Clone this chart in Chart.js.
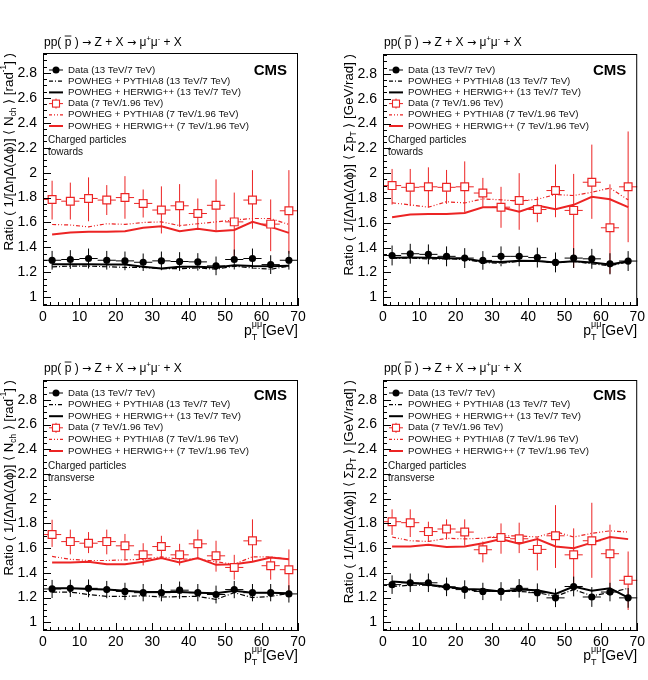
<!DOCTYPE html>
<html>
<head>
<meta charset="utf-8">
<script src="https://cdn.jsdelivr.net/npm/chart.js@4.4.1/dist/chart.umd.min.js"></script>
<style>
    body { margin: 0; background: #fff; }
    #wrap { position: relative; width: 648px; height: 680px; }
    canvas { position: absolute; }
</style>
</head>
<body>
<div id="wrap">
    <canvas id="cA" width="324" height="340" style="left:0;top:0"></canvas>
    <canvas id="cB" width="324" height="340" style="left:324px;top:0"></canvas>
    <canvas id="cC" width="324" height="340" style="left:0;top:340px"></canvas>
    <canvas id="cD" width="324" height="340" style="left:324px;top:340px"></canvas>
</div>
<script>
// bins of pT(mumu), GeV
const binCenters = [2.5, 7.5, 12.5, 17.5, 22.5, 27.5, 32.5, 37.5, 42.5, 47.5, 52.5, 57.5, 62.5, 67.5];
const binHalfWidth = 2.5;
const xTickValues = [0, 10, 20, 30, 40, 50, 60, 70];
const yTickValues = [1, 1.2, 1.4, 1.6, 1.8, 2, 2.2, 2.4, 2.6, 2.8];
const yTickLabels = ['1', '1.2', '1.4', '1.6', '1.8', '2', '2.2', '2.4', '2.6', '2.8'];
const legendLabels = [
    'Data (13 TeV/7 TeV)',
    'POWHEG + PYTHIA8 (13 TeV/7 TeV)',
    'POWHEG + HERWIG++ (13 TeV/7 TeV)',
    'Data (7 TeV/1.96 TeV)',
    'POWHEG + PYTHIA8 (7 TeV/1.96 TeV)',
    'POWHEG + HERWIG++ (7 TeV/1.96 TeV)'
];

// A: towards, <Nch>
const A_red   = [1.785, 1.771, 1.793, 1.78, 1.80, 1.753, 1.70, 1.734, 1.672, 1.738, 1.605, 1.78, 1.587, 1.694];
const A_redLo = [1.624, 1.624, 1.61, 1.66, 1.63, 1.64, 1.512, 1.565, 1.552, 1.533, 1.33, 1.55, 1.37, 1.35];
const A_redHi = [1.935, 1.92, 1.962, 1.90, 1.972, 1.865, 1.89, 1.908, 1.793, 1.946, 1.84, 2.02, 1.785, 2.02];
const A_redPy = [1.584, 1.58, 1.565, 1.59, 1.585, 1.60, 1.605, 1.575, 1.59, 1.605, 1.62, 1.632, 1.632, 1.584];
const A_redHw = [1.504, 1.52, 1.525, 1.525, 1.53, 1.557, 1.57, 1.53, 1.55, 1.53, 1.54, 1.605, 1.565, 1.517];
const A_blk    = [1.297, 1.303, 1.311, 1.297, 1.292, 1.281, 1.292, 1.287, 1.284, 1.252, 1.303, 1.311, 1.262, 1.297];
const A_blkErr = [0.075, 0.075, 0.08, 0.075, 0.075, 0.07, 0.075, 0.075, 0.07, 0.075, 0.08, 0.08, 0.075, 0.075];
const A_blkPy  = [1.244, 1.25, 1.25, 1.245, 1.24, 1.24, 1.23, 1.23, 1.235, 1.225, 1.25, 1.235, 1.225, 1.25];
const A_blkHw  = [1.265, 1.265, 1.265, 1.262, 1.262, 1.245, 1.23, 1.244, 1.244, 1.238, 1.257, 1.25, 1.248, 1.252];

// B: towards, <sum pT>
const B_red   = [1.90, 1.886, 1.89, 1.886, 1.89, 1.84, 1.726, 1.78, 1.707, 1.86, 1.70, 1.927, 1.56, 1.89];
const B_redLo = [1.747, 1.735, 1.726, 1.753, 1.686, 1.73, 1.56, 1.544, 1.605, 1.645, 1.24, 1.632, 1.19, 1.444];
const B_redHi = [2.034, 2.034, 2.047, 2.026, 2.095, 1.962, 1.89, 2.0, 1.81, 2.07, 1.994, 2.23, 1.91, 2.336];
const B_redPy = [1.761, 1.745, 1.726, 1.77, 1.76, 1.793, 1.785, 1.775, 1.79, 1.828, 1.82, 1.846, 1.88, 1.785];
const B_redHw = [1.645, 1.667, 1.672, 1.672, 1.68, 1.726, 1.726, 1.69, 1.74, 1.71, 1.745, 1.81, 1.79, 1.726];
const B_blk    = [1.337, 1.351, 1.346, 1.33, 1.316, 1.297, 1.33, 1.33, 1.32, 1.281, 1.316, 1.31, 1.27, 1.292];
const B_blkErr = [0.08, 0.08, 0.08, 0.08, 0.08, 0.075, 0.08, 0.08, 0.08, 0.08, 0.08, 0.08, 0.085, 0.08];
const B_blkPy  = [1.315, 1.315, 1.31, 1.31, 1.305, 1.28, 1.275, 1.29, 1.29, 1.285, 1.29, 1.27, 1.255, 1.285];
const B_blkHw  = [1.319, 1.32, 1.318, 1.315, 1.312, 1.289, 1.285, 1.295, 1.293, 1.28, 1.29, 1.28, 1.265, 1.29];

// C: transverse, <Nch>
const C_red   = [1.71, 1.653, 1.64, 1.653, 1.619, 1.546, 1.613, 1.546, 1.635, 1.538, 1.444, 1.659, 1.458, 1.426];
const C_redLo = [1.61, 1.55, 1.56, 1.55, 1.51, 1.46, 1.52, 1.46, 1.52, 1.41, 1.345, 1.49, 1.345, 1.25];
const C_redHi = [1.83, 1.75, 1.73, 1.75, 1.715, 1.64, 1.70, 1.635, 1.75, 1.66, 1.546, 1.833, 1.53, 1.59];
const C_redPy = [1.533, 1.51, 1.50, 1.50, 1.505, 1.51, 1.53, 1.51, 1.515, 1.49, 1.47, 1.53, 1.53, 1.51];
const C_redHw = [1.485, 1.485, 1.49, 1.47, 1.47, 1.49, 1.52, 1.485, 1.52, 1.465, 1.47, 1.49, 1.525, 1.51];
const C_blk    = [1.27, 1.275, 1.275, 1.265, 1.25, 1.24, 1.24, 1.26, 1.24, 1.225, 1.265, 1.24, 1.24, 1.23];
const C_blkErr = [0.073, 0.07, 0.072, 0.07, 0.07, 0.07, 0.07, 0.07, 0.07, 0.072, 0.07, 0.07, 0.07, 0.07];
const C_blkPy  = [1.245, 1.245, 1.225, 1.21, 1.21, 1.215, 1.205, 1.208, 1.21, 1.185, 1.24, 1.20, 1.21, 1.235];
const C_blkHw  = [1.275, 1.275, 1.27, 1.265, 1.255, 1.245, 1.245, 1.245, 1.24, 1.235, 1.255, 1.24, 1.24, 1.235];

// D: transverse, <sum pT>
const D_red   = [1.814, 1.806, 1.734, 1.755, 1.73, 1.587, 1.686, 1.676, 1.59, 1.70, 1.546, 1.66, 1.555, 1.34];
const D_redLo = [1.707, 1.69, 1.654, 1.67, 1.62, 1.485, 1.555, 1.56, 1.42, 1.44, 1.27, 1.36, 1.25, 1.10];
const D_redHi = [1.914, 1.914, 1.814, 1.833, 1.833, 1.654, 1.80, 1.806, 1.68, 1.948, 1.76, 1.967, 1.79, 1.573];
const D_redPy = [1.69, 1.66, 1.654, 1.68, 1.675, 1.68, 1.70, 1.70, 1.69, 1.734, 1.69, 1.72, 1.74, 1.73];
const D_redHw = [1.613, 1.613, 1.627, 1.61, 1.613, 1.64, 1.673, 1.635, 1.673, 1.613, 1.60, 1.645, 1.69, 1.673];
const D_blk    = [1.305, 1.32, 1.32, 1.287, 1.265, 1.25, 1.25, 1.275, 1.24, 1.198, 1.29, 1.205, 1.245, 1.198];
const D_blkErr = [0.075, 0.075, 0.075, 0.075, 0.075, 0.07, 0.075, 0.075, 0.075, 0.075, 0.08, 0.08, 0.075, 0.08];
const D_blkPy  = [1.29, 1.30, 1.30, 1.28, 1.265, 1.25, 1.25, 1.25, 1.24, 1.21, 1.265, 1.215, 1.24, 1.275];
const D_blkHw  = [1.33, 1.32, 1.305, 1.287, 1.27, 1.265, 1.25, 1.265, 1.26, 1.23, 1.29, 1.255, 1.275, 1.20];

const FONT = '"Liberation Sans", Arial, Helvetica, sans-serif';
const SYMFONT = '"DejaVu Sans", sans-serif';
const RED = 'rgb(236,36,36)';

const panels = {
    cA: { red: A_red, redLo: A_redLo, redHi: A_redHi, redPy: A_redPy, redHw: A_redHw,
          blk: A_blk, blkErr: A_blkErr, blkPy: A_blkPy, blkHw: A_blkHw,
          area: { left: 43, top: 53, right: 298, bottom: 306 }, yTitleLen: 198,
          quantity: 'nch', region: 'towards', hdrGap: 10, legTop: 17, legGap: 11.2, cmsY: 18, cpTop: 87 },
    cB: { red: B_red, redLo: B_redLo, redHi: B_redHi, redPy: B_redPy, redHw: B_redHw,
          blk: B_blk, blkErr: B_blkErr, blkPy: B_blkPy, blkHw: B_blkHw,
          area: { left: 59, top: 54, right: 314, bottom: 306 }, yTitleLen: 222,
          quantity: 'ptsum', region: 'towards', hdrGap: 11, legTop: 16, legGap: 11.2, cmsY: 17, cpTop: 86 },
    cC: { red: C_red, redLo: C_redLo, redHi: C_redHi, redPy: C_redPy, redHw: C_redHw,
          blk: C_blk, blkErr: C_blkErr, blkPy: C_blkPy, blkHw: C_blkHw,
          area: { left: 43, top: 40, right: 298, bottom: 291 }, yTitleLen: 196,
          quantity: 'nch', region: 'transverse', hdrGap: 11, legTop: 13, legGap: 11.6, cmsY: 16, cpTop: 86 },
    cD: { red: D_red, redLo: D_redLo, redHi: D_redHi, redPy: D_redPy, redHw: D_redHw,
          blk: D_blk, blkErr: D_blkErr, blkPy: D_blkPy, blkHw: D_blkHw,
          area: { left: 59, top: 40, right: 314, bottom: 291 }, yTitleLen: 224,
          quantity: 'ptsum', region: 'transverse', hdrGap: 11, legTop: 13, legGap: 11.6, cmsY: 16, cpTop: 86 }
};

function seg(ctx, x1, y1, x2, y2) {
    ctx.beginPath();
    ctx.moveTo(x1, y1);
    ctx.lineTo(x2, y2);
    ctx.stroke();
}

function partFont(p, scale) {
    return (p[1] * scale) + 'px ' + (p[4] || FONT);
}

function partsWidth(ctx, parts, scale) {
    let w = 0;
    parts.forEach(p => { ctx.font = partFont(p, scale); w += ctx.measureText(p[0]).width; });
    return w;
}

// draws text pieces one after another: [text, size, dy, overline, family]
function drawParts(ctx, parts, x, y, align, scale) {
    scale = scale || 1;
    const w = partsWidth(ctx, parts, scale);
    let cx = align === 'right' ? x - w : x;
    parts.forEach(p => {
        const sz = p[1] * scale;
        ctx.font = partFont(p, scale);
        ctx.fillText(p[0], cx, y + (p[2] || 0) * scale);
        const pw = ctx.measureText(p[0]).width;
        if (p[3]) ctx.fillRect(cx, y - sz * 0.62, pw, 0.9);
        cx += pw;
    });
}

const rootPlugin = {
    id: 'rootStyle',
    beforeDatasetsDraw(chart) {
        const p = panels[chart.canvas.id];
        const ctx = chart.ctx, xs = chart.scales.x, ys = chart.scales.y;
        ctx.save();
        ctx.lineWidth = 1;
        ctx.strokeStyle = RED;
        binCenters.forEach((c, i) => {
            const x = xs.getPixelForValue(c), y = ys.getPixelForValue(p.red[i]);
            seg(ctx, xs.getPixelForValue(c - binHalfWidth), y, xs.getPixelForValue(c + binHalfWidth), y);
            seg(ctx, x, ys.getPixelForValue(p.redLo[i]), x, ys.getPixelForValue(p.redHi[i]));
        });
        ctx.strokeStyle = '#000';
        binCenters.forEach((c, i) => {
            const x = xs.getPixelForValue(c), y = ys.getPixelForValue(p.blk[i]);
            seg(ctx, xs.getPixelForValue(c - binHalfWidth), y, xs.getPixelForValue(c + binHalfWidth), y);
            seg(ctx, x, ys.getPixelForValue(p.blk[i] - p.blkErr[i]), x, ys.getPixelForValue(p.blk[i] + p.blkErr[i]));
        });
        ctx.restore();
    },
    afterDraw(chart) {
        const p = panels[chart.canvas.id];
        const ctx = chart.ctx, xs = chart.scales.x, ys = chart.scales.y;
        const a = chart.chartArea;
        const L = a.left, T = a.top, R = a.right, B = a.bottom;
        ctx.save();

        // frame
        ctx.strokeStyle = '#000';
        ctx.lineWidth = 1;
        ctx.strokeRect(L + 0.5, T + 0.5, R - L - 1, B - T - 1);

        // inside ticks
        for (let v = 0; v <= 70; v += 2) {
            const x = Math.round(xs.getPixelForValue(v)) + 0.5;
            seg(ctx, x, B, x, B - (v % 10 === 0 ? 8 : 4));
        }
        for (let k = 19; k <= 59; k++) {
            const v = k * 0.05;
            if (v < ys.min || v > ys.max) continue;
            const y = Math.round(ys.getPixelForValue(v)) + 0.5;
            seg(ctx, L, y, L + (k % 4 === 0 ? 8 : 4), y);
        }

        ctx.fillStyle = '#000';
        ctx.textBaseline = 'middle';

        // header
        drawParts(ctx, [['pp( ', 12], ['p', 12, 0, true], [' ) ', 12], ['\u2192', 11, 0, false, SYMFONT],
            [' Z + X ', 12], ['\u2192', 11, 0, false, SYMFONT], [' \u03bc', 12],
            ['+', 7.5, -4.5], ['\u03bc', 12], ['-', 7.5, -4.5], [' + X', 12]], L + 1, T - p.hdrGap, 'left');

        // CMS
        ctx.font = 'bold 15px ' + FONT;
        ctx.textAlign = 'right';
        ctx.fillText('CMS', R - 11, T + p.cmsY);
        ctx.textAlign = 'left';

        // legend
        const sx0 = L + 6, sx1 = L + 20, tx = L + 25;
        legendLabels.forEach((lab, i) => {
            const y = T + p.legTop + i * p.legGap;
            const col = i < 3 ? '#000' : RED;
            ctx.strokeStyle = col;
            ctx.setLineDash([]);
            ctx.lineWidth = 1;
            if (i === 0) {
                seg(ctx, sx0, y, sx1, y);
                ctx.fillStyle = '#000';
                ctx.beginPath(); ctx.arc((sx0 + sx1) / 2, y, 3.5, 0, Math.PI * 2); ctx.fill();
            } else if (i === 3) {
                seg(ctx, sx0, y, sx1, y);
                seg(ctx, (sx0 + sx1) / 2, y - 5, (sx0 + sx1) / 2, y + 5);
                ctx.fillStyle = '#fff';
                ctx.fillRect((sx0 + sx1) / 2 - 3.5, y - 3.5, 7, 7);
                ctx.lineWidth = 1.1;
                ctx.strokeRect((sx0 + sx1) / 2 - 3.5, y - 3.5, 7, 7);
            } else if (i === 1 || i === 4) {
                ctx.lineWidth = 1.2;
                ctx.setLineDash(i === 1 ? [4, 2, 1, 2] : [3, 2, 1, 2, 1, 2]);
                seg(ctx, sx0, y, sx1, y);
                ctx.setLineDash([]);
            } else {
                ctx.lineWidth = 2;
                seg(ctx, sx0, y, sx1, y);
            }
            ctx.fillStyle = '#111';
            ctx.font = '9.7px ' + FONT;
            ctx.fillText(lab, tx, y);
        });
        ctx.font = '10px ' + FONT;
        ctx.fillStyle = '#111';
        ctx.fillText('Charged particles', L + 5, T + p.cpTop);
        ctx.fillText(p.region, L + 5, T + p.cpTop + 12);

        // y title, sized to the length it has in the figure
        ctx.fillStyle = '#000';
        ctx.save();
        ctx.translate(L - 34, T);
        ctx.rotate(-Math.PI / 2);
        const yParts = p.quantity === 'nch'
            ? [['Ratio ( 1/[\u0394\u03b7\u0394(\u0394\u03d5)] \u27e8 N', 13], ['ch', 8, 5], [' \u27e9 [rad', 13], ['-1', 8, -5], ['] )', 13]]
            : [['Ratio ( 1/[\u0394\u03b7\u0394(\u0394\u03d5)] \u27e8 \u03a3p', 13], ['T', 8, 5], [' \u27e9 [GeV/rad] )', 13]];
        const sc = Math.min(1.1, p.yTitleLen / partsWidth(ctx, yParts, 1));
        drawParts(ctx, yParts, 0, 0, 'right', sc);
        ctx.restore();

        // x title
        ctx.textBaseline = 'alphabetic';
        ctx.font = '14px ' + FONT;
        const wGeV = ctx.measureText('[GeV]').width;
        const wp = ctx.measureText('p').width;
        ctx.font = '9px ' + FONT;
        const wmu = ctx.measureText('\u03bc\u03bc').width;
        const yb = B + 29;
        const x0 = R - wGeV - wmu - wp;
        ctx.font = '14px ' + FONT;
        ctx.fillText('p', x0, yb);
        ctx.font = '9px ' + FONT;
        ctx.fillText('\u03bc\u03bc', x0 + wp, yb - 8);
        ctx.fillText('T', x0 + wp, yb + 5);
        ctx.font = '14px ' + FONT;
        ctx.fillText('[GeV]', R - wGeV, yb);

        ctx.restore();
    }
};

function makePanel(id) {
    const p = panels[id];
    const pts = (vals) => binCenters.map((x, i) => ({ x: x, y: vals[i] }));
    const lineSet = (label, vals, color, width, dash) => ({
        label: label, data: pts(vals), showLine: true, pointRadius: 0, borderColor: color,
        borderWidth: width, borderDash: dash, fill: false, tension: 0, order: 2
    });
    return new Chart(document.getElementById(id), {
        type: 'scatter',
        data: {
            datasets: [
                { label: legendLabels[0], data: pts(p.blk), pointStyle: 'circle', pointRadius: 3.6,
                  backgroundColor: '#000', borderColor: '#000', borderWidth: 0, order: 0 },
                { label: legendLabels[3], data: pts(p.red), pointStyle: 'rect', pointRadius: 5.5,
                  backgroundColor: '#fff', borderColor: RED, borderWidth: 1.2, order: 1 },
                lineSet(legendLabels[1], p.blkPy, '#000', 1.2, [5, 2, 1, 2]),
                lineSet(legendLabels[2], p.blkHw, '#000', 2, []),
                lineSet(legendLabels[4], p.redPy, RED, 1.2, [4, 2, 1, 2, 1, 2]),
                lineSet(legendLabels[5], p.redHw, RED, 2, [])
            ]
        },
        options: {
            responsive: false,
            animation: false,
            devicePixelRatio: 1,
            layout: { padding: { left: 0, top: p.area.top, right: 324 - p.area.right, bottom: 340 - p.area.bottom - 22 } },
            plugins: { legend: { display: false }, tooltip: { enabled: false } },
            scales: {
                x: {
                    type: 'linear', min: 0, max: 70,
                    afterBuildTicks: (ax) => { ax.ticks = xTickValues.map(v => ({ value: v })); },
                    afterFit: (ax) => { ax.height = 22; },
                    grid: { display: false, drawTicks: false },
                    border: { display: false },
                    ticks: { font: { family: FONT, size: 14 }, color: '#000', padding: 3, autoSkip: false, maxRotation: 0,
                             callback: (v) => String(v) }
                },
                y: {
                    min: 0.93, max: 2.96,
                    afterBuildTicks: (ax) => { ax.ticks = yTickValues.map(v => ({ value: v })); },
                    afterFit: (ax) => { ax.width = p.area.left; },
                    grid: { display: false, drawTicks: false },
                    border: { display: false },
                    ticks: { font: { family: FONT, size: 14 }, color: '#000', padding: 6, autoSkip: false,
                             callback: (v, i) => yTickLabels[i] }
                }
            }
        },
        plugins: [rootPlugin]
    });
}

['cA', 'cB', 'cC', 'cD'].forEach(makePanel);
</script>
</body>
</html>
